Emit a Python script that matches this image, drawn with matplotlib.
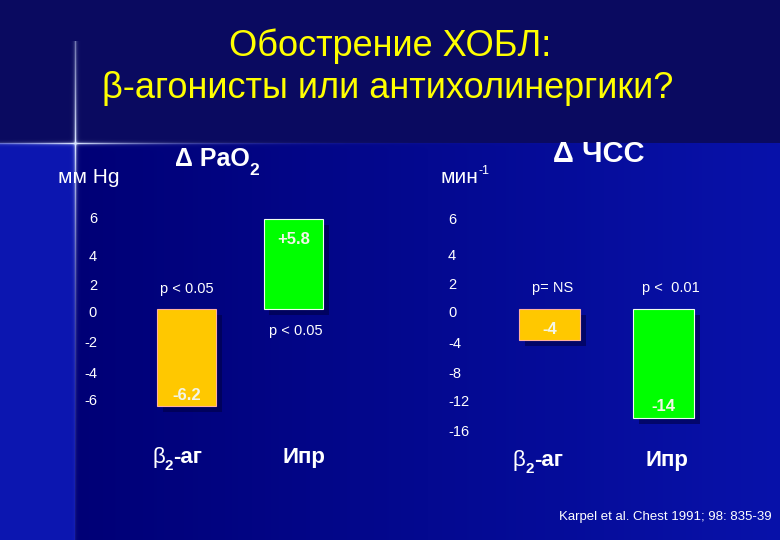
import numpy as np
import matplotlib
matplotlib.use("Agg")
import matplotlib.pyplot as plt
import matplotlib.patheffects as pe

# ---------------- data ----------------
categories = ["β2-аг", "Ипр"]
pao2_values = [-6.2, 5.8]
pao2_pvals = ["p < 0.05", "p < 0.05"]
pao2_labels = ["-6.2", "+5.8"]
pao2_tick_labels = ["6", "4", "2", "0", "-2", "-4", "-6"]
# the original slide spaces its tick labels slightly unevenly
pao2_tick_pos = [5.87, 3.49, 1.57, -0.16, -2.08, -4.01, -5.8]

hr_values = [-4, -14]
hr_pvals = ["p= NS", "p <  0.01"]
hr_labels = ["-4", "-14"]
hr_tick_labels = ["6", "4", "2", "0", "-4", "-8", "-12", "-16"]
hr_tick_pos = [11.74, 7.10, 3.35, -0.3, -4.2, -8.1, -11.7, -15.6]

title_lines = ["Обострение ХОБЛ:", "β-агонисты или антихолинергики?"]
citation = "Karpel et al. Chest 1991; 98: 835-39"

# ---------------- setup ----------------
W, H = 780, 540
fig = plt.figure(figsize=(W / 100, H / 100), dpi=100)
SANS = ["Liberation Sans", "DejaVu Sans"]
plt.rcParams["font.family"] = SANS

def fx(x):
    return x / W

def fy(y):
    return 1 - y / H

# ---------------- background ----------------
yy, xx = np.mgrid[0:H, 0:W].astype(float)
bg = np.zeros((H, W, 3))
t = (xx - 75) / (W - 75)
lo = np.array([0, 0, 118]) / 255
hi = np.array([8, 18, 170]) / 255
for c in range(3):
    bg[..., c] = lo[c] + (hi[c] - lo[c]) * np.clip(t, 0, 1)
strip = np.array([12, 22, 176]) / 255
bg[xx < 75] = strip
top = np.array([10, 10, 96]) / 255
bg[yy < 143] = top
# sparkle lines
vline = np.exp(-np.abs(xx - 75) / 1.2) * np.exp(-np.abs(yy - 143) / 150) * (yy > 40)
hline = np.exp(-np.abs(yy - 143) / 1.0) * np.exp(-np.abs(xx - 75) / 90)
glow = np.clip(vline + hline, 0, 1)[..., None]
bg = bg * (1 - glow) + np.array([0.85, 0.9, 1.0]) * glow
bax = fig.add_axes([0, 0, 1, 1], zorder=-10)
bax.imshow(bg, extent=(0, 1, 0, 1), aspect="auto", interpolation="bilinear")
bax.set_axis_off()

renderer = fig.canvas.get_renderer()

def seq_text(x, y, parts):
    """parts: (text, size, dy_px, weight)"""
    cx = x
    for txt, size, dy, weight in parts:
        tt = fig.text(fx(cx), fy(y + dy), txt, fontsize=size, fontweight=weight,
                      color="white", va="baseline", ha="left", family=SANS)
        bb = tt.get_window_extent(renderer=renderer)
        cx += bb.width

# ---------------- title ----------------
fig.text(fx(390), fy(56), title_lines[0], ha="center", va="baseline",
         fontsize=26, color="#FFFF00")
fig.text(fx(388), fy(98), title_lines[1], ha="center", va="baseline",
         fontsize=26, color="#FFFF00")

shadow = [pe.SimplePatchShadow(offset=(4.3, -4.3), shadow_rgbFace="#000040", alpha=0.55),
          pe.Normal()]
bar_colors = ["#FFC800", "#00FF00"]
edge_colors = ["#FFB0A0", "#F0FFF0"]

def setup_axes(ax):
    for s in ax.spines.values():
        s.set_visible(False)
    ax.set_facecolor("none")
    ax.tick_params(axis="y", length=0, colors="white", labelsize=10.5)
    ax.tick_params(axis="x", length=0, labelbottom=False)

xpos = np.arange(len(categories))

# ---------------- left panel: PaO2 ----------------
axL = fig.add_axes([fx(110), fy(440), (340 - 110) / W, 240 / H])
setup_axes(axL)
barsL = axL.bar(xpos, pao2_values, width=0.56, color=bar_colors,
                edgecolor=edge_colors, linewidth=0.8)
for b in barsL:
    b.set_path_effects(shadow)
axL.set_xlim(-0.715, 1.435)
axL.set_ylim(-8.37, 7.02)
axL.set_yticks(pao2_tick_pos)
axL.set_yticklabels(pao2_tick_labels)
axL.tick_params(axis="y", pad=9.4)
for i, (v, lab) in enumerate(zip(pao2_values, pao2_labels)):
    off = 7.5 if v < 0 else -14.5
    axL.annotate(lab, xy=(i, v), xytext=(0, off), textcoords="offset points",
                 ha="center", va="center", fontsize=12, fontweight="bold",
                 color="#F2F5E8")
axL.annotate(pao2_pvals[0], xy=(0, 0), xytext=(0, 14.5), textcoords="offset points",
             ha="center", va="center", fontsize=10.5, color="white")
axL.annotate(pao2_pvals[1], xy=(1, 0), xytext=(1.5, -15.5), textcoords="offset points",
             ha="center", va="center", fontsize=10.5, color="white")

# ---------------- right panel: heart rate ----------------
axR = fig.add_axes([fx(480), fy(440), (720 - 480) / W, 240 / H])
setup_axes(axR)
barsR = axR.bar(xpos, hr_values, width=0.535, color=bar_colors,
                edgecolor=edge_colors, linewidth=0.8)
for b in barsR:
    b.set_path_effects(shadow)
axR.set_xlim(-0.610, 1.496)
axR.set_ylim(-16.84, 14.13)
axR.set_yticks(hr_tick_pos)
axR.set_yticklabels(hr_tick_labels)
for lbl in axR.get_yticklabels():
    lbl.set_horizontalalignment("left")
axR.tick_params(axis="y", pad=23)
for i, (v, lab) in enumerate(zip(hr_values, hr_labels)):
    axR.annotate(lab, xy=(i, v), xytext=(0, 8), textcoords="offset points",
                 ha="center", va="center", fontsize=12, fontweight="bold",
                 color="#F2F5E8")
axR.annotate(hr_pvals[0], xy=(0, 0), xytext=(2.5, 15.5), textcoords="offset points",
             ha="center", va="center", fontsize=10.5, color="white")
axR.annotate(hr_pvals[1], xy=(1, 0), xytext=(5.5, 15.5), textcoords="offset points",
             ha="center", va="center", fontsize=10.5, color="white")

# ---------------- panel headers ----------------
seq_text(175, 166, [("Δ PaO", 18, 0, "bold"), ("2", 12.5, 9, "bold")])
seq_text(58, 183, [("мм Hg", 15, 0, "normal")])
seq_text(553, 162, [("Δ ЧСС", 21, 0, "bold")])
seq_text(441, 183, [("мин", 15, 0, "normal"), ("-1", 9, -9, "normal")])

# ---------------- category labels ----------------
for x0, y0 in [(152, 463), (513, 466)]:
    seq_text(x0, y0, [("β", 16, 0, "normal"), ("2", 11, 7, "bold"),
                      ("-аг", 16, 0, "bold")])
for xc, y0 in [(303.5, 463), (667, 466)]:
    fig.text(fx(xc), fy(y0), categories[1], ha="center", va="baseline",
             fontsize=16, fontweight="bold", color="white")

fig.text(fx(772), fy(520), citation, ha="right", va="baseline",
         fontsize=9.5, color="white")

fig.savefig("out.png", dpi=100)
